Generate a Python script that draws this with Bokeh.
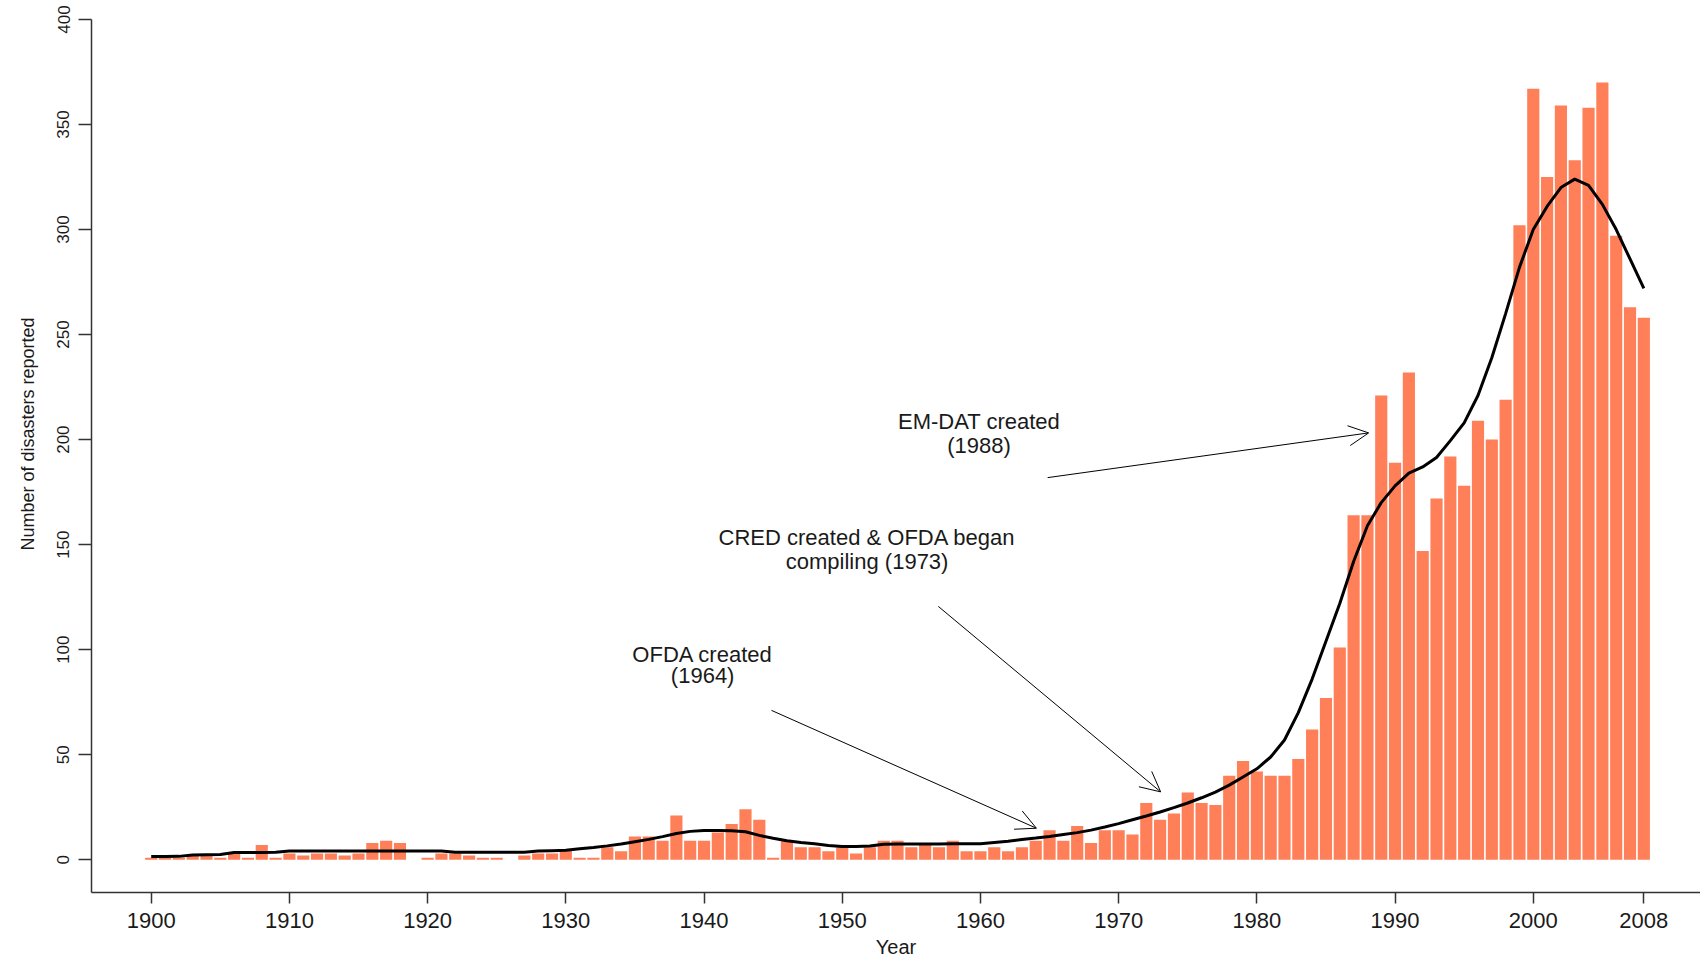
from bokeh.plotting import figure
from bokeh.models import Range1d, FixedTicker, ColumnDataSource, Arrow, OpenHead, Title
from bokeh.embed import file_html
from bokeh.resources import INLINE
from bokeh.core.properties import value

# ---------------- data ----------------
years = list(range(1900, 2009))
disasters = [
    1, 1, 1, 2, 2, 1, 3, 1, 7, 1,          # 1900-1909
    3, 2, 3, 3, 2, 3, 8, 9, 8, 0,          # 1910-1919
    1, 3, 3, 2, 1, 1, 0, 2, 3, 3,          # 1920-1929
    5, 1, 1, 6, 4, 11, 11, 9, 21, 9,       # 1930-1939
    9, 13, 17, 24, 19, 1, 9, 6, 6, 4,      # 1940-1949
    6, 3, 6, 9, 9, 6, 7, 6, 9, 4,          # 1950-1959
    4, 6, 4, 6, 9, 14, 9, 16, 8, 14,       # 1960-1969
    14, 12, 27, 19, 22, 32, 27, 26, 40, 47,  # 1970-1979
    42, 40, 40, 48, 62, 77, 101, 164, 164, 221,  # 1980-1989
    189, 232, 147, 172, 192, 178, 209, 200, 219, 302,  # 1990-1999
    367, 325, 359, 333, 358, 370, 297, 263, 258,  # 2000-2008
]
smooth_years = list(range(1900, 2009))
smooth_values = [
    1.5, 1.5, 1.6, 2.3, 2.4, 2.5, 3.4, 3.4, 3.5, 3.6,
    4.1, 4.1, 4.1, 4.1, 4.1, 4.1, 4.1, 4.1, 4.1, 4.1,
    4.1, 4.1, 3.6, 3.6, 3.6, 3.6, 3.6, 3.6, 4.1, 4.3,
    4.5, 5.2, 5.8, 6.6, 7.5, 8.6, 9.7, 11.0, 12.5, 13.5,
    13.9, 13.9, 13.8, 13.3, 11.6, 10.2, 9.0, 8.2, 7.6, 6.8,
    6.3, 6.3, 6.5, 7.4, 7.5, 7.5, 7.5, 7.5, 7.6, 7.6,
    7.6, 8.2, 8.8, 9.6, 10.3, 11.1, 12.0, 12.9, 14.1, 15.6,
    17.2, 19.0, 20.8, 22.7, 24.8, 27.0, 29.5, 32.2, 35.5, 39.4,
    43.3, 48.9, 57.0, 70.0, 86.0, 104.0, 122.0, 142.0, 159.0, 170.0,
    178.0, 184.0, 187.0, 191.5, 199.5, 208.0, 221.0, 239.0, 260.0, 282.0,
    300.0, 311.0, 320.0, 324.0, 321.0, 312.0, 300.0, 286.0, 272.0,
]
x_ticks = [1900, 1910, 1920, 1930, 1940, 1950, 1960, 1970, 1980, 1990, 2000, 2008]
y_ticks = [0, 50, 100, 150, 200, 250, 300, 350, 400]

note_lines = ["EM-DAT created", "(1988)",
              "CRED created & OFDA began", "compiling (1973)",
              "OFDA created", "(1964)"]
note_x = [1959.9, 1959.9, 1951.8, 1951.8, 1939.9, 1939.9]
note_y = [208.4, 197.3, 153.2, 142.1, 97.8, 87.5]

arrow_x0 = [1964.86, 1956.95, 1944.88]
arrow_y0 = [181.9, 120.6, 71.1]
arrow_x1 = [1988.09, 1973.04, 1964.05]
arrow_y1 = [203.2, 32.3, 15.0]

y_title = "Number of disasters reported"
x_title = "Year"

assert len(disasters) == len(years) and len(smooth_values) == len(smooth_years)

# ---------------- figure ----------------
FONT = "Liberation Sans"
TXT = "#1a1a1a"
p = figure(width=1700, height=965,
           x_range=Range1d(1895.68, 2012.1), y_range=Range1d(-15.6, 400),
           output_backend="svg", toolbar_location=None,
           min_border_left=91, min_border_right=0,
           min_border_top=19, min_border_bottom=73)
p.outline_line_color = None
p.grid.visible = False
p.background_fill_color = "white"
p.border_fill_color = "white"

bars = ColumnDataSource(dict(year=years, count=disasters))
p.vbar(x="year", top="count", bottom=0, width=0.88, source=bars,
       fill_color="#FF7F58", line_color=None)

p.line(smooth_years, smooth_values, line_color="black", line_width=3)

notes = ColumnDataSource(dict(x=note_x, y=note_y, text=note_lines))
p.text(x="x", y="y", text="text", source=notes, text_align="center",
       text_baseline="middle", text_font=value(FONT), text_font_size="22px",
       text_color=TXT)

arrows = ColumnDataSource(dict(x0=arrow_x0, y0=arrow_y0, x1=arrow_x1, y1=arrow_y1))
p.add_layout(Arrow(x_start="x0", y_start="y0", x_end="x1", y_end="y1", source=arrows,
                   line_color="black", line_width=1,
                   end=OpenHead(size=20, line_color="black", line_width=1)))

# y-axis title as a side title, starting above the frame bottom like the original
p.add_layout(Title(text=y_title, align="left", offset=342, vertical_align="middle",
                   standoff=31, text_font=FONT, text_font_size="18px",
                   text_font_style="normal", text_color=TXT), "left")

# axes
xa = p.xaxis[0]
xa.ticker = FixedTicker(ticks=x_ticks)
xa.minor_tick_line_color = None
xa.major_tick_in = 0
xa.major_tick_out = 11
xa.major_label_standoff = 9
xa.major_label_text_font = FONT
xa.major_label_text_font_size = "22px"
xa.major_label_text_color = TXT
xa.axis_label = x_title
xa.axis_label_standoff = 5
xa.axis_label_text_font = FONT
xa.axis_label_text_font_size = "20px"
xa.axis_label_text_font_style = "normal"
xa.axis_label_text_color = TXT
xa.axis_line_color = "#333333"
xa.axis_line_width = 1.5
xa.major_tick_line_color = "#333333"
xa.major_tick_line_width = 1.5

ya = p.yaxis[0]
ya.ticker = FixedTicker(ticks=y_ticks)
ya.minor_tick_line_color = None
ya.major_tick_in = 0
ya.major_tick_out = 13
ya.major_label_standoff = 9
ya.major_label_orientation = "vertical"
ya.major_label_text_font = FONT
ya.major_label_text_font_size = "17px"
ya.major_label_text_color = TXT
ya.axis_line_color = "#333333"
ya.axis_line_width = 1.5
ya.major_tick_line_color = "#333333"
ya.major_tick_line_width = 1.5

open("out.html", "w").write(file_html(p, INLINE))
